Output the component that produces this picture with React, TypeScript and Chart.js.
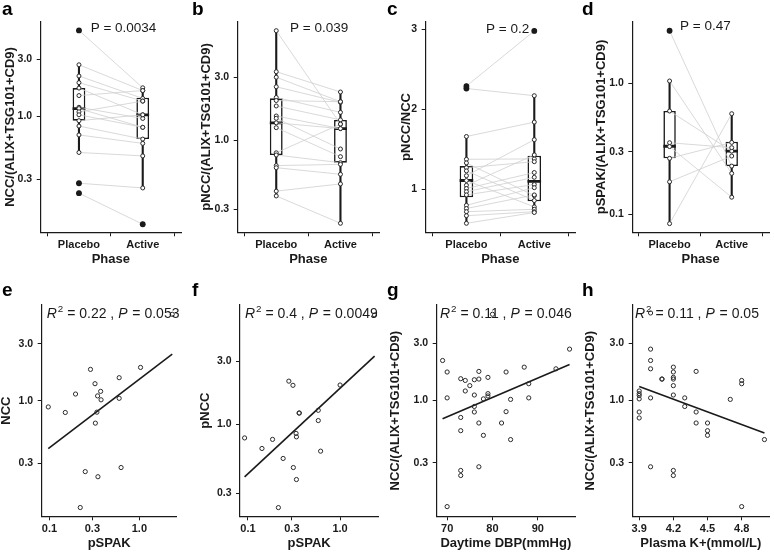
import React, { useEffect, useRef } from "react";
import { Chart, registerables } from "chart.js";

Chart.register(...registerables);

const FONT = "'Liberation Sans', Arial, Helvetica, sans-serif";
const INK = "#1a1a1a";
const PAIR_GREY = "#cfcfcf";
const POINT_EDGE = "#2a2a2a";
const BOX_HALF = 0.1;

// ---------- shared categories / tick values ----------
const phaseCategories = ["Placebo", "Active"];
const ratioTicks = [0.3, 1, 3];
const ratioTickLabels = ["0.3", "1.0", "3.0"];
const pspakTicks = [0.1, 0.3, 1];
const pspakTickLabels = ["0.1", "0.3", "1.0"];
const dTicks = [0.1, 0.3, 1];
const dTickLabels = ["0.1", "0.3", "1.0"];
const pnccNccTicks = [1, 2, 3];
const pnccNccTickLabels = ["1", "2", "3"];
const dbpTicks = [70, 80, 90];
const dbpTickLabels = ["70", "80", "90"];
const potassiumTicks = [3.9, 4.2, 4.5, 4.8];
const potassiumTickLabels = ["3.9", "4.2", "4.5", "4.8"];

// ---------- panel a : NCC/(ALIX+TSG101+CD9) ----------
const aPlacebo = [5.2, 2.69, 2.17, 1.91, 1.72, 1.49, 1.19, 1.16, 1.09, 1.03, 0.92, 0.83, 0.7, 0.5, 0.277, 0.229];
const aActive = [1.73, 1.64, 1.41, 1.34, 1.03, 1.64, 0.96, 0.81, 1.34, 0.81, 1.03, 0.646, 0.595, 0.468, 0.253, 0.126];
// box stats: [lower whisker, q1, median, q3, upper whisker]
const aBoxPlacebo = [0.5, 0.92, 1.16, 1.72, 2.69];
const aBoxActive = [0.253, 0.646, 1.03, 1.43, 1.73];
const aOutPlacebo = [5.2, 0.277, 0.229];
const aOutActive = [0.126];

// ---------- panel b : pNCC/(ALIX+TSG101+CD9) ----------
const bPlacebo = [6.73, 3.29, 2.99, 2.53, 2.1, 1.99, 1.81, 1.52, 1.46, 1.35, 1.24, 0.8, 0.77, 0.64, 0.617, 0.41, 0.377];
const bActive = [1.32, 2.31, 1.95, 1.93, 1.62, 1.95, 1.42, 1.22, 0.855, 1.22, 0.748, 1.32, 0.673, 0.654, 0.55, 0.465, 0.234];
const bBoxPlacebo = [0.377, 0.77, 1.35, 2.07, 6.73];
const bBoxActive = [0.234, 0.673, 1.22, 1.42, 2.31];
const bOutPlacebo: number[] = [];
const bOutActive: number[] = [];

// ---------- panel c : pNCC/NCC ----------
const cPlacebo = [2.29, 2.26, 1.66, 1.375, 1.33, 1.27, 1.23, 1.17, 1.11, 1.05, 1.01, 0.97, 0.93, 0.8, 0.76, 0.72, 0.67, 0.575];
const cActive = [2.98, 2.17, 1.84, 1.38, 0.92, 1.345, 0.86, 1.62, 0.78, 1.43, 1.21, 1.15, 1.06, 1.02, 0.93, 0.75, 0.72, 0.71];
const cBoxPlacebo = [0.575, 0.9, 1.11, 1.29, 1.66];
const cBoxActive = [0.71, 0.85, 1.1, 1.42, 2.17];
const cOutPlacebo = [2.29, 2.26];
const cOutActive = [2.98];

// ---------- panel d : pSPAK/(ALIX+TSG101+CD9) ----------
const dPlacebo = [2.5, 1.036, 0.612, 0.351, 0.328, 0.267, 0.177, 0.085];
const dActive = [0.233, 0.205, 0.303, 0.322, 0.135, 0.353, 0.278, 0.584];
const dBoxPlacebo = [0.085, 0.267, 0.33, 0.612, 1.036];
const dBoxActive = [0.135, 0.233, 0.303, 0.357, 0.584];
const dOutPlacebo = [2.5];
const dOutActive: number[] = [];

// ---------- panel e : NCC vs pSPAK ----------
const ePSPAK = [0.097, 0.15, 0.195, 0.286, 0.321, 0.371, 0.343, 0.375, 0.337, 0.324, 0.596, 0.596, 1.03, 2.32, 0.25, 0.346, 0.626, 0.22];
const eNCC = [0.89, 0.8, 1.14, 1.83, 1.39, 1.2, 1.1, 1.02, 0.805, 0.652, 1.56, 1.05, 1.9, 5.27, 0.257, 0.233, 0.278, 0.129];
const eFitX = [0.097, 2.32];
const eFitY = [0.4, 2.45];

// ---------- panel f : pNCC vs pSPAK ----------
const fPSPAK = [0.092, 0.142, 0.185, 0.241, 0.278, 0.308, 0.311, 0.333, 0.336, 0.336, 0.36, 0.36, 0.58, 0.58, 0.615, 1.0, 2.37, 0.214];
const fPNCC = [0.79, 0.657, 0.77, 0.552, 2.13, 1.98, 0.471, 0.855, 0.805, 0.382, 1.22, 1.22, 1.28, 1.07, 0.627, 1.99, 6.76, 0.234];
const fFitX = [0.092, 2.37];
const fFitY = [0.4, 3.3];

// ---------- panel g : NCC vs daytime DBP ----------
const gDBP = [69, 70, 70, 73, 74, 74, 73, 73, 73, 73, 70, 75, 76, 76, 76, 76, 77, 77, 77, 77, 78, 78, 79, 79, 79, 80, 82, 83, 83, 84, 84, 87, 88, 88, 94, 97];
const gNCC = [2.16, 1.73, 1.05, 1.52, 1.47, 1.2, 0.72, 0.558, 0.259, 0.235, 0.129, 1.33, 1.49, 1.11, 0.89, 0.8, 1.75, 1.51, 0.647, 0.278, 0.51, 1.03, 1.56, 1.14, 1.09, 5.27, 0.647, 1.73, 0.805, 1.02, 0.47, 1.9, 1.38, 1.05, 1.84, 2.69];
const gFitX = [69, 97];
const gFitY = [0.703, 2.0];

// ---------- panel h : NCC vs plasma K+ ----------
const hK = [3.9, 3.9, 3.9, 3.9, 3.9, 3.9, 4.0, 4.0, 4.0, 4.0, 4.0, 4.1, 4.1, 4.2, 4.2, 4.2, 4.2, 4.2, 4.2, 4.2, 4.2, 4.3, 4.3, 4.4, 4.4, 4.4, 4.5, 4.5, 4.5, 4.7, 4.8, 4.8, 4.8, 5.0, 4.0];
const hNCC = [1.2, 1.14, 1.1, 1.03, 0.8, 0.713, 2.69, 2.16, 1.84, 1.05, 0.278, 1.51, 1.51, 1.9, 1.73, 1.56, 1.51, 1.33, 1.11, 0.259, 0.235, 1.05, 0.89, 1.75, 0.8, 0.647, 0.647, 0.558, 0.51, 1.02, 1.47, 1.38, 0.129, 0.47, 5.4];
const hFitX = [3.9, 5.0];
const hFitY = [1.31, 0.534];

// ---------- annotation plugin (P values / R²) ----------
const annotPlugin = {
  id: "annot",
  afterDraw(chart: any, _args: any, opts: any) {
    if (!opts || !opts.segments) return;
    const { ctx, chartArea } = chart;
    ctx.save();
    let x = chartArea.left + opts.dx;
    const y = chartArea.top + opts.dy;
    ctx.textBaseline = "middle";
    ctx.textAlign = "left";
    ctx.fillStyle = INK;
    for (const s of opts.segments) {
      const size = s.sup ? opts.size * 0.7 : opts.size;
      ctx.font = `${s.italic ? "italic " : ""}${size}px ${FONT}`;
      ctx.fillText(s.text, x, s.sup ? y - opts.size * 0.36 : y);
      x += ctx.measureText(s.text).width + (s.italic ? 1 : 0);
    }
    ctx.restore();
  },
};

function axisGrid() {
  return { display: true, drawOnChartArea: false, drawTicks: true, tickLength: 4, color: INK, lineWidth: 1 };
}

function yAxis(o: any) {
  return {
    type: o.type,
    min: o.min,
    max: o.max,
    afterBuildTicks: (s: any) => {
      s.ticks = o.ticks.map((v: number) => ({ value: v }));
    },
    afterFit: (s: any) => {
      s.width = o.width;
    },
    ticks: {
      autoSkip: false,
      callback: (_v: any, i: number) => o.labels[i],
      font: { family: FONT, size: 10.5, weight: "bold" },
      color: INK,
      padding: 4.5,
    },
    grid: axisGrid(),
    border: { display: true, color: INK, width: 1.2 },
    title: {
      display: true,
      text: o.title,
      color: INK,
      font: { family: FONT, size: 13, weight: "bold", lineHeight: 1 },
      padding: { top: o.titlePad, bottom: 0 },
    },
  };
}

function xAxis(o: any) {
  return {
    type: o.type,
    min: o.min,
    max: o.max,
    offset: false,
    afterBuildTicks: (s: any) => {
      s.ticks = o.ticks.map((v: number) => ({ value: v }));
    },
    afterFit: (s: any) => {
      s.height = o.height;
    },
    ticks: {
      autoSkip: false,
      maxRotation: 0,
      callback: (_v: any, i: number) => o.labels[i],
      font: { family: FONT, size: 11, weight: "bold" },
      color: INK,
      padding: 2,
    },
    grid: axisGrid(),
    border: { display: true, color: INK, width: 1.2 },
    title: {
      display: true,
      text: o.title,
      color: INK,
      font: { family: FONT, size: 13, weight: "bold", lineHeight: 1 },
      padding: { top: 0, bottom: o.titlePadBottom },
    },
  };
}

function baseOptions(padTop: number, padRight: number, scales: any, annot: any) {
  return {
    responsive: false,
    maintainAspectRatio: false,
    animation: false,
    events: [],
    devicePixelRatio: 1,
    layout: { padding: { top: padTop, right: padRight, left: 0, bottom: 0 } },
    plugins: { legend: { display: false }, tooltip: { enabled: false }, annot },
    scales,
  };
}

function boxConfig(p: any) {
  const datasets: any[] = [];
  // paired grey lines
  p.placebo.forEach((v: number, i: number) => {
    datasets.push({
      type: "line",
      data: [
        { x: 1, y: v },
        { x: 2, y: p.active[i] },
      ],
      borderColor: PAIR_GREY,
      borderWidth: 0.8,
      pointRadius: 0,
      order: 3,
    });
  });
  [p.boxP, p.boxA].forEach((b: number[], k: number) => {
    const x = k + 1;
    datasets.push({
      type: "line",
      data: [
        { x, y: b[0] },
        { x, y: b[4] },
      ],
      borderColor: INK,
      borderWidth: 2.1,
      pointRadius: 0,
      order: 6,
    });
    datasets.push({
      type: "line",
      data: [
        { x: x - BOX_HALF, y: b[2] },
        { x: x + BOX_HALF, y: b[2] },
      ],
      borderColor: INK,
      borderWidth: 2.8,
      pointRadius: 0,
      order: 4,
    });
  });
  datasets.push({
    type: "bar",
    data: [
      { x: 1, y: [p.boxP[1], p.boxP[3]] },
      { x: 2, y: [p.boxA[1], p.boxA[3]] },
    ],
    backgroundColor: "#ffffff",
    borderColor: INK,
    borderWidth: 1.6,
    borderSkipped: false,
    barPercentage: 2 * BOX_HALF,
    categoryPercentage: 1,
    grouped: false,
    order: 5,
  });
  datasets.push({
    type: "scatter",
    data: [...p.placebo.map((v: number) => ({ x: 1, y: v })), ...p.active.map((v: number) => ({ x: 2, y: v }))],
    pointRadius: 2.0,
    pointBorderWidth: 1,
    pointBorderColor: POINT_EDGE,
    pointBackgroundColor: "#ffffff",
    order: 2,
  });
  datasets.push({
    type: "scatter",
    data: [...p.outP.map((v: number) => ({ x: 1, y: v })), ...p.outA.map((v: number) => ({ x: 2, y: v }))],
    pointRadius: 2.9,
    pointBorderWidth: 0,
    pointBackgroundColor: INK,
    order: 1,
  });
  return {
    type: "scatter",
    data: { datasets },
    options: baseOptions(21.7, p.padRight, {
      x: xAxis({
        type: "linear",
        min: 0.4,
        max: 2.6,
        ticks: [1, 2],
        labels: phaseCategories,
        title: "Phase",
        height: 47.7,
        titlePadBottom: 14.5,
      }),
      y: yAxis({
        type: p.yType,
        min: p.yMin,
        max: p.yMax,
        ticks: p.yTicks,
        labels: p.yLabels,
        title: p.yTitle,
        width: p.yWidth,
        titlePad: p.yTitlePad,
      }),
    }, { segments: [{ text: p.pText }], size: 13.5, dx: p.pDx, dy: p.pDy }),
    plugins: [annotPlugin],
  };
}

function scatterConfig(p: any) {
  const datasets: any[] = [
    {
      type: "line",
      data: p.fitX.map((x: number, i: number) => ({ x, y: p.fitY[i] })),
      borderColor: INK,
      borderWidth: 1.6,
      pointRadius: 0,
      order: 2,
    },
    {
      type: "scatter",
      data: p.xs.map((x: number, i: number) => ({ x, y: p.ys[i] })),
      pointRadius: 2.1,
      pointBorderWidth: 1,
      pointBorderColor: POINT_EDGE,
      pointBackgroundColor: "rgba(255,255,255,0)",
      order: 1,
    },
  ];
  return {
    type: "scatter",
    data: { datasets },
    options: baseOptions(25, p.padRight, {
      x: xAxis({
        type: p.xType,
        min: p.xMin,
        max: p.xMax,
        ticks: p.xTicks,
        labels: p.xLabels,
        title: p.xTitle,
        height: 36.7,
        titlePadBottom: 3.5,
      }),
      y: yAxis({
        type: "logarithmic",
        min: p.yMin,
        max: p.yMax,
        ticks: ratioTicks,
        labels: ratioTickLabels,
        title: p.yTitle,
        width: p.yWidth,
        titlePad: p.yTitlePad,
      }),
    }, {
      segments: [
        { text: "R", italic: true },
        { text: "2", sup: true },
        { text: ` = ${p.r2} , ` },
        { text: "P", italic: true },
        { text: ` = ${p.p}` },
      ],
      size: 14,
      dx: p.tDx,
      dy: 9.3,
    }),
    plugins: [annotPlugin],
  };
}

const NCC_TITLE = "NCC/(ALIX+TSG101+CD9)";

const panels = [
  {
    letter: "a", left: 0, top: 0, width: 190, height: 280,
    config: () => boxConfig({
      placebo: aPlacebo, active: aActive, boxP: aBoxPlacebo, boxA: aBoxActive, outP: aOutPlacebo, outA: aOutActive,
      yType: "logarithmic", yMin: 0.108, yMax: 6.15, yTicks: ratioTicks, yLabels: ratioTickLabels,
      yTitle: NCC_TITLE, yWidth: 40.7, yTitlePad: 3.5, padRight: 9, pText: "P = 0.0034", pDx: 50, pDy: 6.6,
    }),
  },
  {
    letter: "b", left: 190, top: 0, width: 195, height: 280,
    config: () => boxConfig({
      placebo: bPlacebo, active: bActive, boxP: bBoxPlacebo, boxA: bBoxActive, outP: bOutPlacebo, outA: bOutActive,
      yType: "logarithmic", yMin: 0.2, yMax: 7.87, yTicks: ratioTicks, yLabels: ratioTickLabels,
      yTitle: "pNCC/(ALIX+TSG101+CD9)", yWidth: 47.7, yTitlePad: 10.2, padRight: 6, pText: "P = 0.039", pDx: 52.3, pDy: 6.6,
    }),
  },
  {
    letter: "c", left: 385, top: 0, width: 195, height: 280,
    config: () => boxConfig({
      placebo: cPlacebo, active: cActive, boxP: cBoxPlacebo, boxA: cBoxActive, outP: cOutPlacebo, outA: cOutActive,
      yType: "linear", yMin: 0.4625, yMax: 3.095, yTicks: pnccNccTicks, yLabels: pnccNccTickLabels,
      yTitle: "pNCC/NCC", yWidth: 40.7, yTitlePad: 15.2, padRight: 5, pText: "P = 0.2", pDx: 60.3, pDy: 7.6,
    }),
  },
  {
    letter: "d", left: 580, top: 0, width: 194, height: 280,
    config: () => boxConfig({
      placebo: dPlacebo, active: dActive, boxP: dBoxPlacebo, boxA: dBoxActive, outP: dOutPlacebo, outA: dOutActive,
      yType: "logarithmic", yMin: 0.073, yMax: 2.93, yTicks: dTicks, yLabels: dTickLabels,
      yTitle: "pSPAK/(ALIX+TSG101+CD9)", yWidth: 52.3, yTitlePad: 15.2, padRight: 0, pText: "P = 0.47", pDx: 47.7, pDy: 5,
    }),
  },
  {
    letter: "e", left: 0, top: 280, width: 190, height: 273,
    config: () => scatterConfig({
      xs: ePSPAK, ys: eNCC, fitX: eFitX, fitY: eFitY,
      xType: "logarithmic", xMin: 0.082, xMax: 2.6, xTicks: pspakTicks, xLabels: pspakTickLabels, xTitle: "pSPAK",
      yMin: 0.109, yMax: 6.3, yTitle: "NCC", yWidth: 41.7, yTitlePad: -0.5, padRight: 13.3,
      r2: "0.22", p: "0.053", tDx: 5,
    }),
  },
  {
    letter: "f", left: 190, top: 280, width: 195, height: 273,
    config: () => scatterConfig({
      xs: fPSPAK, ys: fPNCC, fitX: fFitX, fitY: fFitY,
      xType: "logarithmic", xMin: 0.082, xMax: 2.6, xTicks: pspakTicks, xLabels: pspakTickLabels, xTitle: "pSPAK",
      yMin: 0.201, yMax: 8.05, yTitle: "pNCC", yWidth: 50, yTitlePad: 8.5, padRight: 6.7,
      r2: "0.4", p: "0.0049", tDx: 5,
    }),
  },
  {
    letter: "g", left: 385, top: 280, width: 195, height: 273,
    config: () => scatterConfig({
      xs: gDBP, ys: gNCC, fitX: gFitX, fitY: gFitY,
      xType: "linear", xMin: 67.7, xMax: 98.2, xTicks: dbpTicks, xLabels: dbpTickLabels, xTitle: "Daytime DBP(mmHg)",
      yMin: 0.107, yMax: 6.3, yTitle: NCC_TITLE, yWidth: 51.7, yTitlePad: 3.5, padRight: 5,
      r2: "0.11", p: "0.046", tDx: 3.3,
    }),
  },
  {
    letter: "h", left: 580, top: 280, width: 194, height: 273,
    config: () => scatterConfig({
      xs: hK, ys: hNCC, fitX: hFitX, fitY: hFitY,
      xType: "linear", xMin: 3.843, xMax: 5.04, xTicks: potassiumTicks, xLabels: potassiumTickLabels, xTitle: "Plasma K+(mmol/L)",
      yMin: 0.107, yMax: 6.3, yTitle: NCC_TITLE, yWidth: 52.7, yTitlePad: 3.5, padRight: 2,
      r2: "0.11", p: "0.05", tDx: 2.3,
    }),
  },
];

function Panel(props: any) {
  const ref = useRef<HTMLCanvasElement>(null);
  useEffect(() => {
    const chart = new Chart(ref.current as HTMLCanvasElement, props.config() as any);
    return () => chart.destroy();
  }, []);
  return (
    <canvas
      ref={ref}
      width={props.width}
      height={props.height}
      style={{ position: "absolute", left: props.left, top: props.top, width: props.width, height: props.height }}
    />
  );
}

export default function App() {
  return (
    <div style={{ position: "absolute", left: 0, top: 0, width: 774, height: 553, background: "#ffffff", overflow: "hidden" }}>
      {panels.map((p) => (
        <Panel key={p.letter} {...p} />
      ))}
      {panels.map((p) => (
        <div
          key={"l" + p.letter}
          style={{
            position: "absolute",
            left: p.left + 2,
            top: p.top === 0 ? -1 : 280,
            font: `bold 19px/19px ${FONT}`,
            color: "#000",
          }}
        >
          {p.letter}
        </div>
      ))}
    </div>
  );
}
